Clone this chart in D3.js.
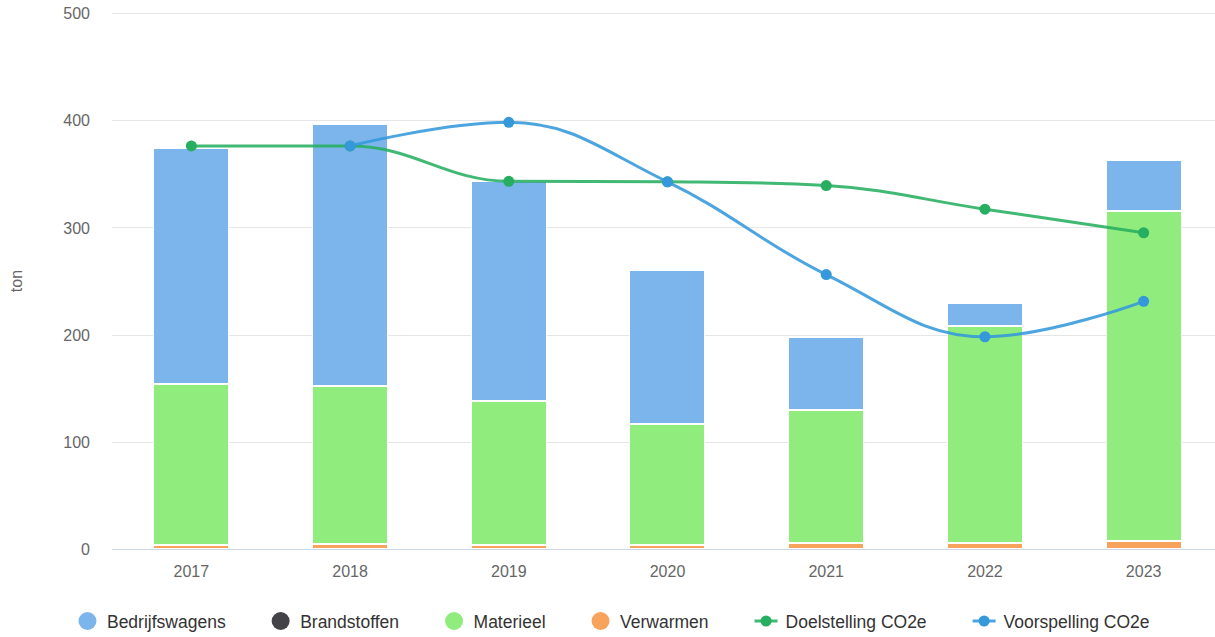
<!DOCTYPE html>
<html lang="nl">
<head>
<meta charset="UTF-8">
<title>CO2e per jaar</title>
<script src="https://cdn.jsdelivr.net/npm/d3@7"></script>
<style>
    body { margin: 0; background: #fff; }
    svg { display: block; font-family: "Liberation Sans", Arial, sans-serif; }
</style>
</head>
<body>
<script>
    // data (ton)
    const years = ["2017", "2018", "2019", "2020", "2021", "2022", "2023"];
    const bedrijfswagens = [221, 244, 205, 144, 68, 21.5, 47];
    const brandstoffen = [0, 0, 0, 0, 0, 0, 0];
    const materieel = [150, 147.5, 135, 113, 123.5, 202, 308];
    const verwarmen = [3.5, 4.8, 3.5, 3.5, 6, 6, 7.5];
    const doelstelling = [376, 376, 343, 342.5, 339, 317, 295];
    const voorspelling = [null, 376, 398, 342.5, 256, 198, 231];
    const yTicks = [0, 100, 200, 300, 400, 500];

    const width = 1215, height = 637;
    const plot = { left: 112, right: 1223, top: 13, bottom: 549 };

    const svg = d3.select("body").append("svg")
        .attr("width", width)
        .attr("height", height);

    const x = d3.scaleBand()
        .domain(years)
        .range([plot.left, plot.right]);

    const y = d3.scaleLinear()
        .domain([0, 500])
        .range([plot.bottom, plot.top]);

    // grid
    svg.append("g")
        .selectAll("line")
        .data(yTicks.filter(d => d > 0))
        .enter().append("line")
        .attr("x1", plot.left).attr("x2", plot.right)
        .attr("y1", d => Math.round(y(d)) + 0.5)
        .attr("y2", d => Math.round(y(d)) + 0.5)
        .attr("stroke", "#e6e6e6");

    // y axis labels
    const yAxis = svg.append("g")
        .attr("transform", `translate(${plot.left - 22},0)`)
        .call(d3.axisLeft(y).tickValues(yTicks).tickSize(0).tickPadding(0));
    yAxis.select(".domain").remove();
    yAxis.selectAll("text")
        .attr("dy", "0.35em")
        .style("font-size", "16px")
        .style("font-family", "'Liberation Sans', Arial, sans-serif")
        .attr("fill", "#666");

    svg.append("text")
        .attr("transform", `translate(22,${(plot.top + plot.bottom) / 2}) rotate(-90)`)
        .attr("text-anchor", "middle")
        .style("font-size", "16px")
        .attr("fill", "#666")
        .text("ton");

    // stacked bars: first series sits on top
    const series = [
        { name: "Bedrijfswagens", values: bedrijfswagens, color: "#7cb5ec" },
        { name: "Brandstoffen", values: brandstoffen, color: "#434348" },
        { name: "Materieel", values: materieel, color: "#90ed7d" },
        { name: "Verwarmen", values: verwarmen, color: "#f7a35c" }
    ];
    const stackKeys = series.map(s => s.name).reverse();
    const table = years.map((yr, i) => {
        const row = { year: yr };
        series.forEach(s => { row[s.name] = s.values[i]; });
        return row;
    });
    const stacked = d3.stack().keys(stackKeys)(table);
    const colorOf = Object.fromEntries(series.map(s => [s.name, s.color]));

    const group = x.bandwidth() * 0.6;
    const barW = group * 0.8;

    svg.append("g")
        .selectAll("g")
        .data(stacked)
        .enter().append("g")
        .attr("fill", d => colorOf[d.key])
        .selectAll("rect")
        .data(d => d.filter(p => p[1] - p[0] > 0))
        .enter().append("rect")
        .attr("x", d => Math.round(x(d.data.year) + x.bandwidth() / 2 - barW / 2) + 0.5)
        .attr("y", d => Math.round(y(d[1])) + 0.5)
        .attr("width", Math.round(barW) - 1)
        .attr("height", d => Math.max(0, Math.round(y(d[0])) - Math.round(y(d[1])) - 1))
        .attr("stroke", "#fff")
        .attr("stroke-width", 1);

    // x axis
    svg.append("line")
        .attr("x1", plot.left).attr("x2", plot.right)
        .attr("y1", plot.bottom + 0.5).attr("y2", plot.bottom + 0.5)
        .attr("stroke", "#ccd6eb");

    svg.append("g")
        .selectAll("text")
        .data(years)
        .enter().append("text")
        .attr("x", d => x(d) + x.bandwidth() / 2)
        .attr("y", 577)
        .attr("text-anchor", "middle")
        .style("font-size", "16px")
        .attr("fill", "#666")
        .text(d => d);

    // Highcharts-like spline path
    function splinePath(pts) {
        const smoothing = 1.5, denom = smoothing + 1;
        let d = "";
        pts.forEach((p, i) => {
            const last = pts[i - 1], next = pts[i + 1];
            let lcx, lcy;
            if (last && next) {
                lcx = (smoothing * p.x + last.x) / denom;
                lcy = (smoothing * p.y + last.y) / denom;
                const rcx = (smoothing * p.x + next.x) / denom;
                let rcy = (smoothing * p.y + next.y) / denom;
                let corr = 0;
                if (rcx !== lcx) corr = ((rcy - lcy) * (rcx - p.x)) / (rcx - lcx) + p.y - rcy;
                lcy += corr; rcy += corr;
                if (lcy > last.y && lcy > p.y) { lcy = Math.max(last.y, p.y); rcy = 2 * p.y - lcy; }
                else if (lcy < last.y && lcy < p.y) { lcy = Math.min(last.y, p.y); rcy = 2 * p.y - lcy; }
                if (rcy > next.y && rcy > p.y) { rcy = Math.max(next.y, p.y); lcy = 2 * p.y - rcy; }
                else if (rcy < next.y && rcy < p.y) { rcy = Math.min(next.y, p.y); lcy = 2 * p.y - rcy; }
                p.rcx = rcx; p.rcy = rcy;
            }
            if (i === 0) {
                d += `M${p.x},${p.y}`;
            } else {
                const c1x = last.rcx !== undefined ? last.rcx : last.x;
                const c1y = last.rcy !== undefined ? last.rcy : last.y;
                const c2x = lcx !== undefined ? lcx : p.x;
                const c2y = lcy !== undefined ? lcy : p.y;
                d += `C${c1x},${c1y} ${c2x},${c2y} ${p.x},${p.y}`;
            }
        });
        return d;
    }

    const lines = [
        { name: "Doelstelling CO2e", values: doelstelling, color: "#27ae60" },
        { name: "Voorspelling CO2e", values: voorspelling, color: "#3498db" }
    ];

    lines.forEach(s => {
        const pts = years
            .map((yr, i) => ({ v: s.values[i], x: x(yr) + x.bandwidth() / 2 }))
            .filter(p => p.v !== null)
            .map(p => ({ x: p.x, y: y(p.v), v: p.v }));
        const g = svg.append("g");
        g.append("path")
            .attr("d", splinePath(pts))
            .attr("fill", "none")
            .attr("stroke", s.color)
            .attr("stroke-opacity", 0.88)
            .attr("stroke-width", 3)
            .attr("stroke-linecap", "round")
            .attr("stroke-linejoin", "round");
        g.selectAll("circle")
            .data(pts)
            .enter().append("circle")
            .attr("cx", d => d.x)
            .attr("cy", d => d.y)
            .attr("r", 5.5)
            .attr("fill", s.color);
    });

    // legend
    const legendItems = series.map(s => ({ name: s.name, color: s.color, type: "circle" }))
        .concat(lines.map(s => ({ name: s.name, color: s.color, type: "line" })));
    const legend = svg.append("g");
    const legendY = 621;
    let cursor = 0;
    legendItems.forEach(item => {
        const g = legend.append("g").attr("transform", `translate(${cursor},0)`);
        let symW;
        if (item.type === "circle") {
            symW = 18;
            g.append("circle").attr("cx", 9).attr("cy", legendY).attr("r", 9).attr("fill", item.color);
        } else {
            symW = 23;
            g.append("line").attr("x1", 0).attr("x2", symW)
                .attr("y1", legendY).attr("y2", legendY)
                .attr("stroke", item.color).attr("stroke-opacity", 0.88).attr("stroke-width", 3);
            g.append("circle").attr("cx", symW / 2).attr("cy", legendY).attr("r", 5.5).attr("fill", item.color);
        }
        const t = g.append("text")
            .attr("x", symW + (item.type === "circle" ? 10.5 : 8))
            .attr("y", legendY + 6.5)
            .style("font-size", "17.5px")
            .attr("fill", "#333")
            .text(item.name);
        cursor += symW + (item.type === "circle" ? 10.5 : 8) + t.node().getComputedTextLength() + 46;
    });
    const legendW = cursor - 46;
    legend.attr("transform", `translate(${616 - legendW / 2 - 2},0)`);
</script>
</body>
</html>
